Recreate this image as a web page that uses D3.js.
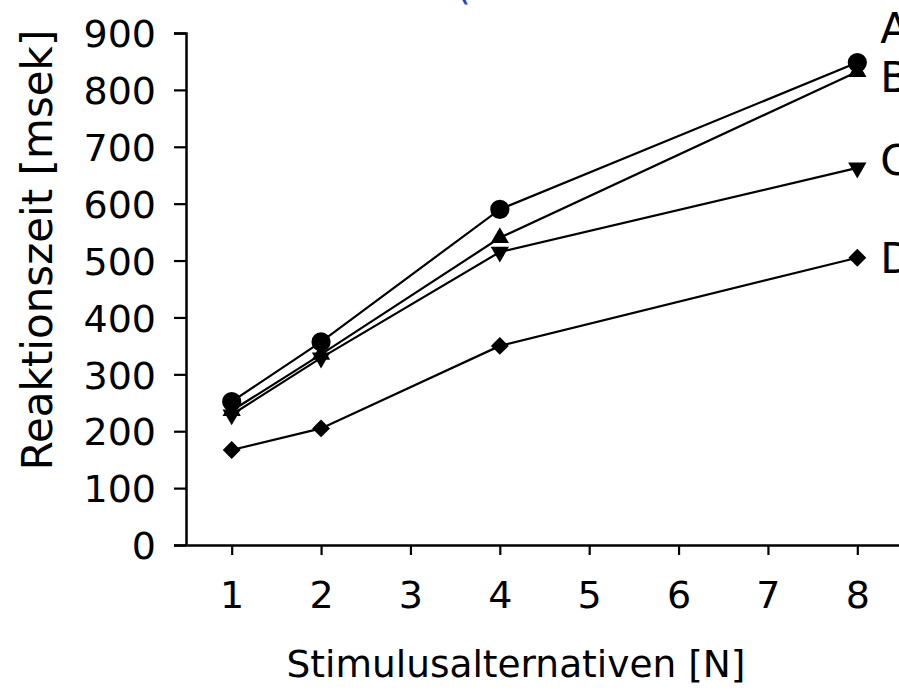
<!DOCTYPE html>
<html>
<head>
<meta charset="utf-8">
<script src="https://cdn.jsdelivr.net/npm/d3@7"></script>
<style>
  html, body { margin: 0; padding: 0; background: #fff; }
  #chart { width: 899px; height: 693px; overflow: hidden; }
  text { font-family: "DejaVu Sans", sans-serif; fill: #000; }
</style>
</head>
<body>
<div id="chart"></div>
<script>
(function(){

    const width = 899;
    const height = 693;

    // values
    const alternatives = [1, 2, 4, 8];
    const seriesNames = ['A', 'B', 'C', 'D'];
    const valuesA = [252, 357, 590, 848];
    const valuesB = [236, 335, 540, 832];
    const valuesC = [229, 329, 515, 663];
    const valuesD = [167, 205, 350, 505];
    const xTicks = [1, 2, 3, 4, 5, 6, 7, 8];
    const yTicks = [0, 100, 200, 300, 400, 500, 600, 700, 800, 900];

    const series = [
        {name: seriesNames[0], values: valuesA, symbol: d3.symbolCircle, size: 290, rotate: 0},
        {name: seriesNames[1], values: valuesB, symbol: d3.symbolTriangle, size: 145, rotate: 0},
        {name: seriesNames[2], values: valuesC, symbol: d3.symbolTriangle, size: 145, rotate: 180},
        {name: seriesNames[3], values: valuesD, symbol: d3.symbolSquare, size: 160, rotate: 45}
    ];

    // label nudges so the letters sit where they do in the print
    const labelShift = {A: -35, B: 5, C: -8, D: 0};

    const svg = d3.select("#chart")
        .append("svg")
        .attr("width", width)
        .attr("height", height);

    const x = d3.scaleLinear().domain([0.5, 8.5]).range([187, 902]);
    const y = d3.scaleLinear().domain([0, 900]).range([545, 33]);

    // x axis
    const xAxis = svg.append("g")
        .attr("transform", `translate(0,${y(0)})`)
        .call(d3.axisBottom(x).tickValues(xTicks).tickFormat(d3.format("d"))
            .tickSizeInner(10).tickSizeOuter(0).tickPadding(26));

    // y axis
    const yAxis = svg.append("g")
        .attr("transform", `translate(${x(0.5) - 1},0)`)
        .call(d3.axisLeft(y).tickValues(yTicks).tickFormat(d3.format("d"))
            .tickSize(12).tickPadding(18));

    [xAxis, yAxis].forEach(function(g){
        g.select(".domain").attr("stroke", "#000").attr("stroke-width", 2.5);
        g.selectAll(".tick line").attr("stroke", "#000").attr("stroke-width", 2.2);
        g.selectAll(".tick text")
            .style("font-family", '"DejaVu Sans", sans-serif')
            .style("font-size", "38px")
            .attr("fill", "#000");
    });
    yAxis.selectAll(".tick text").attr("dy", "0.36em");
    xAxis.selectAll(".tick text").attr("dy", "0.71em");

    // lines
    const line = d3.line()
        .x(function(d, i){ return x(alternatives[i]) })
        .y(function(d){ return y(d) });

    svg.selectAll(".series-line")
        .data(series)
        .enter().append("path")
        .attr("class", "series-line")
        .attr("d", function(d){ return line(d.values) })
        .attr("fill", "none")
        .attr("stroke", "#000")
        .attr("stroke-width", 2.2);

    // markers
    series.forEach(function(s){
        svg.selectAll(".m" + s.name)
            .data(s.values)
            .enter().append("path")
            .attr("class", "m" + s.name)
            .attr("d", d3.symbol().type(s.symbol).size(s.size)())
            .attr("transform", function(d, i){
                return `translate(${x(alternatives[i])},${y(d)}) rotate(${s.rotate})`
            })
            .attr("fill", "#000");
    });

    // series letters at the right edge (cut off by the frame as in the print)
    svg.selectAll(".series-label")
        .data(series)
        .enter().append("text")
        .attr("class", "series-label")
        .attr("x", x(8) + 23)
        .attr("y", function(d){ return y(d.values[d.values.length - 1]) + labelShift[d.name] })
        .attr("dy", "0.36em")
        .style("font-size", "42px")
        .text(function(d){ return d.name });

    // axis titles
    svg.append("text")
        .attr("x", 516)
        .attr("y", 677)
        .attr("text-anchor", "middle")
        .style("font-size", "37.5px")
        .text("Stimulusalternativen [N]");

    svg.append("text")
        .attr("transform", "translate(52,250) rotate(-90)")
        .attr("text-anchor", "middle")
        .style("font-size", "42px")
        .text("Reaktionszeit [msek]");

    // stray blue bracket clipped at the top edge
    svg.append("text")
        .attr("x", 456)
        .attr("y", -1)
        .style("font-size", "38px")
        .style("fill", "#1f3fd6")
        .text("(");

}());
</script>
</body>
</html>
